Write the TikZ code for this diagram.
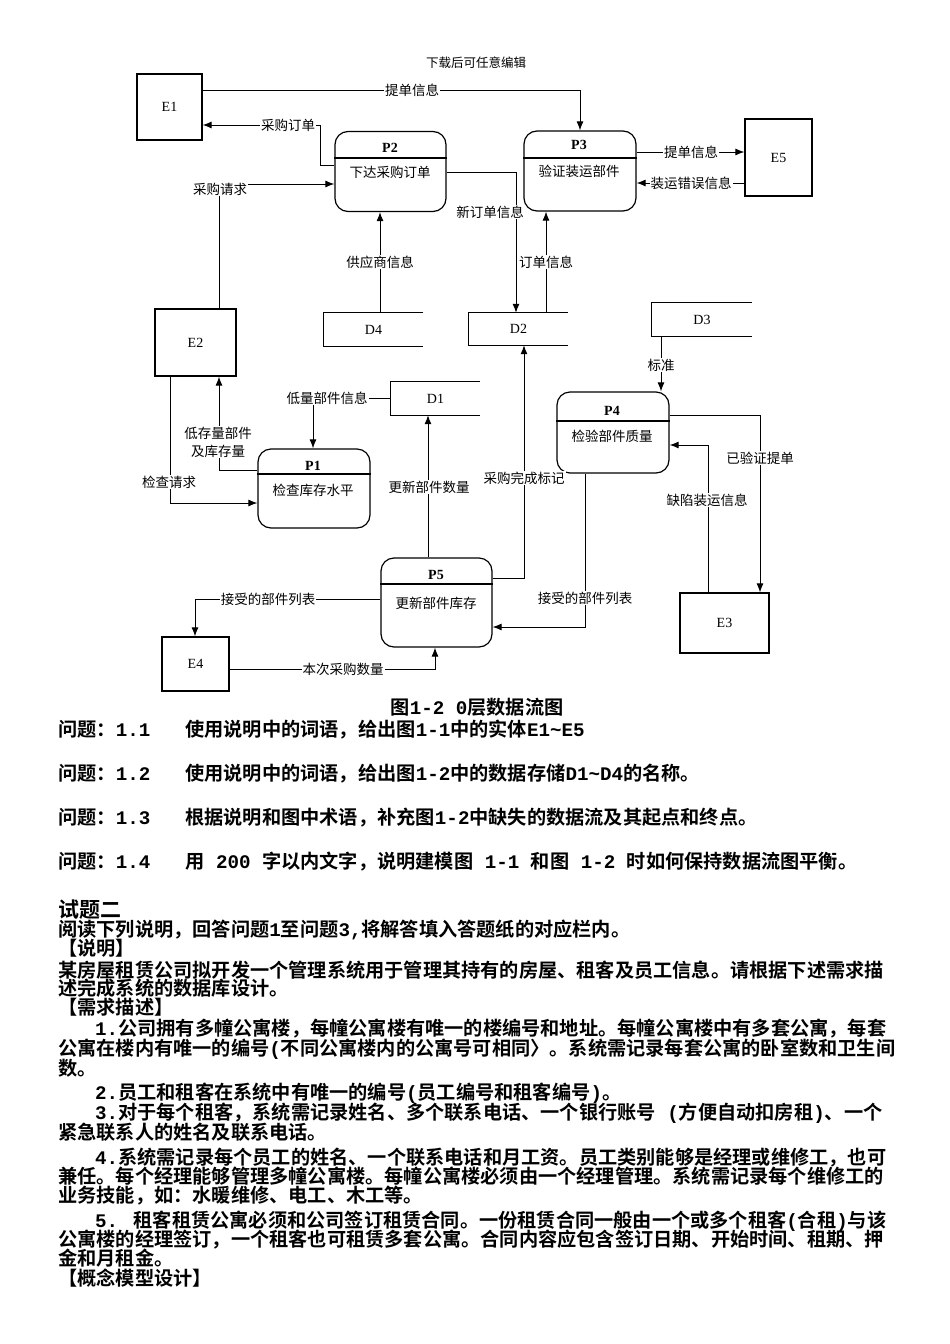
\documentclass[tikz,border=0pt]{standalone}
\usepackage{fontspec}
\setmainfont{Liberation Serif}
\newfontfamily\zh{Noto Sans CJK SC}
\newfontfamily\zhb{Noto Sans CJK SC Bold}
\newfontfamily\mo{Liberation Mono}
\newcommand\m[1]{{\mo\bfseries #1}}
\usetikzlibrary{arrows.meta}
\begin{document}
\begin{tikzpicture}[x=1pt,y=-1pt,
  ent/.style={draw, line width=1.2pt, inner sep=0pt, font=\fontsize{14}{14}\selectfont},
  proc/.style={draw, rounded corners=13pt, line width=1.2pt, inner sep=0pt},
  pid/.style={inner sep=0pt, font=\fontsize{14}{14}\selectfont\bfseries},
  ptitle/.style={inner sep=0pt, font=\zh\fontsize{13.5}{14}\selectfont},
  store/.style={inner sep=0pt, font=\fontsize{14}{14}\selectfont},
  storeline/.style={line width=1.2pt},
  flow/.style={line width=1pt, -{Latex[length=9pt,width=7pt]}},
  lab/.style={fill=white, inner sep=1pt, font=\zh\fontsize{13.5}{18}\selectfont},
  body/.style={anchor=base west, inner sep=0pt, font=\zhb\fontsize{19.2}{20}\selectfont},
]
\fill[white] (0,0) rectangle (950,1344);
\useasboundingbox (0,0) rectangle (950,1344);

\node[inner sep=0pt, font=\zh\fontsize{12.5}{13}\selectfont] (hdr) at (476,63) {下载后可任意编辑};

% entities
\node[ent, minimum width=65pt, minimum height=66pt] (E1) at (169.5,107) {E1};
\node[ent, minimum width=67pt, minimum height=77pt] (E5) at (778.5,157.5) {E5};
\node[ent, minimum width=81pt, minimum height=67pt] (E2) at (195.5,342.5) {E2};
\node[ent, minimum width=89pt, minimum height=60pt] (E3) at (724.5,623) {E3};
\node[ent, minimum width=67pt, minimum height=54pt] (E4) at (195.5,664) {E4};

% processes
\node[proc, minimum width=111pt, minimum height=80pt] (P2) at (390.5,171.5) {};
\draw[line width=1.1pt] (P2.west |- 0,158) -- (P2.east |- 0,158);
\node[pid] (P2id) at (390,148) {P2};
\node[ptitle] (P2t) at (390,172) {下达采购订单};

\node[proc, minimum width=112pt, minimum height=80pt] (P3) at (580,171) {};
\draw[line width=1.1pt] (P3.west |- 0,158) -- (P3.east |- 0,158);
\node[pid] (P3id) at (579,145) {P3};
\node[ptitle] (P3t) at (579,171) {验证装运部件};

\node[proc, minimum width=112pt, minimum height=81pt] (P4) at (613,432.5) {};
\draw[line width=1.1pt] (P4.west |- 0,421) -- (P4.east |- 0,421);
\node[pid] (P4id) at (612,411) {P4};
\node[ptitle] (P4t) at (612,436) {检验部件质量};

\node[proc, minimum width=112pt, minimum height=79pt] (P1) at (314,488.5) {};
\draw[line width=1.1pt] (P1.west |- 0,474) -- (P1.east |- 0,474);
\node[pid] (P1id) at (313,466) {P1};
\node[ptitle] (P1t) at (313,490) {检查库存水平};

\node[proc, minimum width=111pt, minimum height=89pt] (P5) at (436.5,602.5) {};
\draw[line width=1.1pt] (P5.west |- 0,584) -- (P5.east |- 0,584);
\node[pid] (P5id) at (436,575) {P5};
\node[ptitle] (P5t) at (436,603) {更新部件库存};

% data stores
\node[store, minimum width=99pt, minimum height=33pt] (D4) at (373.5,329.5) {D4};
\draw[storeline] (D4.north east) -- (D4.north west) -- (D4.south west) -- (D4.south east);
\node[store, minimum width=99pt, minimum height=32pt] (D2) at (518.5,329) {D2};
\draw[storeline] (D2.north east) -- (D2.north west) -- (D2.south west) -- (D2.south east);
\node[store, minimum width=100pt, minimum height=33pt] (D3) at (702,319.5) {D3};
\draw[storeline] (D3.north east) -- (D3.north west) -- (D3.south west) -- (D3.south east);
\node[store, minimum width=89pt, minimum height=33pt] (D1) at (435.5,398.5) {D1};
\draw[storeline] (D1.north east) -- (D1.north west) -- (D1.south west) -- (D1.south east);

% flows
\draw[flow] (E1.east |- 0,90) -| (P3.north -| 580,0);
\draw[flow] (P2.west |- 0,165) -| (320,125) -- (E1.east |- 0,125);
\draw[flow] (E2.north -| 219,0) |- (P2.west |- 0,184);
\draw[flow] (P2.east |- 0,172) -| (D2.north -| 516,0);
\draw[flow] (D2.north -| 546,0) -- (P3.south -| 546,0);
\draw[flow] (D4.north -| 380,0) -- (P2.south -| 380,0);
\draw[flow] (P3.east |- 0,152) -- (E5.west |- 0,152);
\draw[flow] (E5.west |- 0,183) -- (P3.east |- 0,183);
\draw[flow] (D3.south -| 661,0) -- (P4.north -| 661,0);
\draw[flow] (P4.east |- 0,415) -| (E3.north -| 760,0);
\draw[flow] (E3.north -| 708,0) |- (P4.east |- 0,445);
\draw[flow] (P4.south -| 585,0) |- (P5.east |- 0,627);
\draw[flow] (P5.east |- 0,578) -| (D2.south -| 524,0);
\draw[flow] (P5.north -| 428,0) -- (D1.south -| 428,0);
\draw[flow] (D1.west) -| (P1.north -| 313,0);
\draw[flow] (P1.west |- 0,470) -| (E2.south -| 219,0);
\draw[flow] (E2.south -| 170,0) |- (P1.west |- 0,503);
\draw[flow] (P5.west |- 0,599) -| (E4.north -| 195,0);
\draw[flow] (E4.east |- 0,669) -| (P5.south -| 435,0);

% flow labels
\node[lab] (l1) at (412,90) {提单信息};
\node[lab] (l2) at (288,125) {采购订单};
\node[lab] (l3) at (220,189) {采购请求};
\node[lab] (l4) at (490,212) {新订单信息};
\node[lab] (l5) at (546,262) {订单信息};
\node[lab] (l6) at (380,262) {供应商信息};
\node[lab] (l7) at (691,152) {提单信息};
\node[lab] (l8) at (691,183) {装运错误信息};
\node[lab] (l9) at (661,365) {标准};
\node[lab] (l10) at (760,458) {已验证提单};
\node[lab] (l11) at (707,500) {缺陷装运信息};
\node[lab] (l12) at (585,598) {接受的部件列表};
\node[lab] (l13) at (524,478) {采购完成标记};
\node[lab] (l14) at (429,487) {更新部件数量};
\node[lab] (l15) at (327,398) {低量部件信息};
\node[lab, align=center] (l16) at (218,442) {低存量部件\\及库存量};
\node[lab] (l17) at (169,482) {检查请求};
\node[lab] (l18) at (268,599) {接受的部件列表};
\node[lab] (l19) at (343,669) {本次采购数量};

% text below
\node[inner sep=0pt, anchor=base, font=\zhb\fontsize{19.2}{20}\selectfont] (cap) at (477,714) {图\m{1-2 0}层数据流图};
\node[body] (q1) at (58,736) {问题：\m{1.1}\hspace*{35pt}使用说明中的词语，给出图\m{1-1}中的实体\m{E1\textasciitilde E5}};
\node[body] (q2) at (58,780) {问题：\m{1.2}\hspace*{35pt}使用说明中的词语，给出图\m{1-2}中的数据存储\m{D1\textasciitilde D4}的名称。};
\node[body] (q3) at (58,824) {问题：\m{1.3}\hspace*{35pt}根据说明和图中术语，补充图\m{1-2}中缺失的数据流及其起点和终点。};
\node[body] (q4) at (58,868) {问题：\m{1.4}\hspace*{35pt}用\m{ 200 }字以内文字，说明建模图\m{ 1-1 }和图\m{ 1-2 }时如何保持数据流图平衡。};

\node[body, font=\zhb\fontsize{21}{22}\selectfont] (s0) at (58,917) {试题二};
\node[body] (s1) at (58,936) {阅读下列说明，回答问题\m{1}至问题\m{3,}将解答填入答题纸的对应栏内。};
\node[body] (s2) at (58,955) {【说明】};
\node[body] (s3) at (58,977) {某房屋租赁公司拟开发一个管理系统用于管理其持有的房屋、租客及员工信息。请根据下述需求描};
\node[body] (s4) at (58,995) {述完成系统的数据库设计。};
\node[body] (s5) at (58,1014) {【需求描述】};
\node[body] (s6) at (95,1035) {\m{1.}公司拥有多幢公寓楼，每幢公寓楼有唯一的楼编号和地址。每幢公寓楼中有多套公寓，每套};
\node[body] (s7) at (58,1055) {公寓在楼内有唯一的编号\m{(}不同公寓楼内的公寓号可相同〉。系统需记录每套公寓的卧室数和卫生间};
\node[body] (s8) at (58,1075) {数。};
\node[body] (s9) at (95,1099) {\m{2.}员工和租客在系统中有唯一的编号\m{(}员工编号和租客编号\m{)}。};
\node[body] (s10) at (95,1119) {\m{3.}对于每个租客，系统需记录姓名、多个联系电话、一个银行账号\m{ (}方便自动扣房租\m{)}、一个};
\node[body] (s11) at (58,1139) {紧急联系人的姓名及联系电话。};
\node[body] (s12) at (95,1164) {\m{4.}系统需记录每个员工的姓名、一个联系电话和月工资。员工类别能够是经理或维修工，也可};
\node[body] (s13) at (58,1183) {兼任。每个经理能够管理多幢公寓楼。每幢公寓楼必须由一个经理管理。系统需记录每个维修工的};
\node[body] (s14) at (58,1202) {业务技能，如：水暖维修、电工、木工等。};
\node[body] (s15) at (95,1227) {\m{5. }租客租赁公寓必须和公司签订租赁合同。一份租赁合同一般由一个或多个租客\m{(}合租\m{)}与该};
\node[body] (s16) at (58,1246) {公寓楼的经理签订，一个租客也可租赁多套公寓。合同内容应包含签订日期、开始时间、租期、押};
\node[body] (s17) at (58,1265) {金和月租金。};
\node[body] (s18) at (58,1285) {【概念模型设计】};
\end{tikzpicture}
\end{document}
